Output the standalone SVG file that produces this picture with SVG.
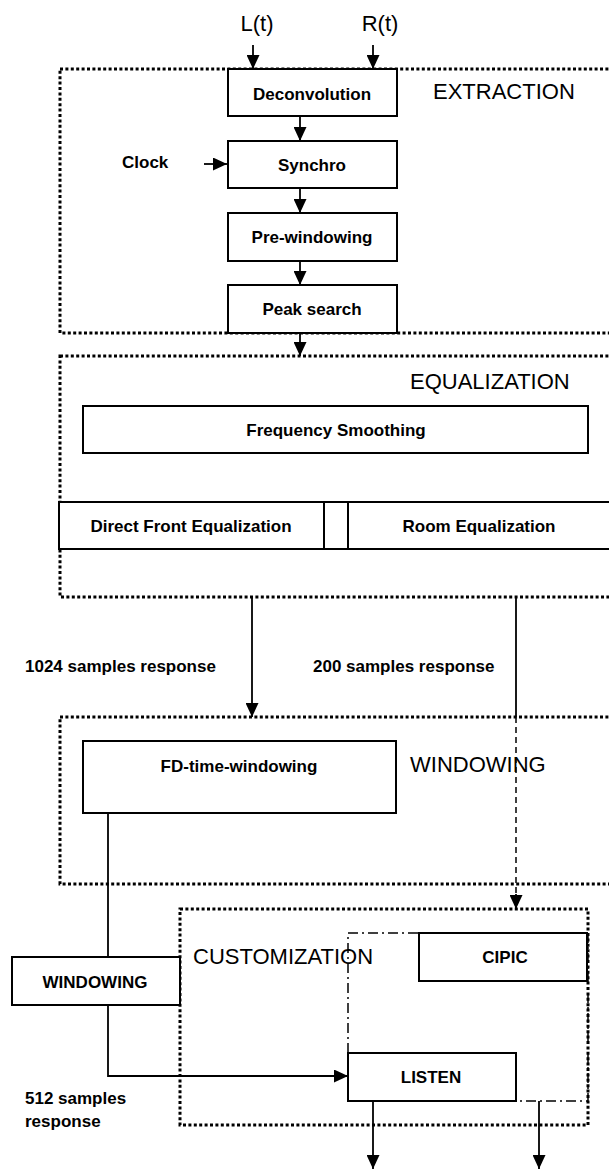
<svg xmlns="http://www.w3.org/2000/svg" width="609" height="1173" viewBox="0 0 609 1173">
<defs>
<marker id="ah" markerUnits="userSpaceOnUse" markerWidth="15" markerHeight="13" refX="14" refY="6.5" orient="auto">
<path d="M0,0 L14,6.5 L0,13 z" fill="#000"/>
</marker>
<style>
.grp{fill:none;stroke:#000;stroke-width:3;stroke-dasharray:3 2.4}
.box{fill:#fff;stroke:#000;stroke-width:2}
.dd{fill:none;stroke:#000;stroke-width:1.5;stroke-dasharray:10 4 2 4}
.ln{fill:none;stroke:#000;stroke-width:1.8}
.arr{fill:none;stroke:#000;stroke-width:1.8;marker-end:url(#ah)}
.dash{fill:none;stroke:#000;stroke-width:1.5;stroke-dasharray:6 4}
.t{font-family:"Liberation Sans",Arial,sans-serif;font-size:17px;font-weight:bold;fill:#000}
.big{font-family:"Liberation Sans",Arial,sans-serif;font-size:22px;fill:#000}
.m{text-anchor:middle}
</style>
</defs>
<rect width="609" height="1173" fill="#fff"/>

<g id="groups">
<rect class="grp" x="60" y="69" width="570" height="264"/>
<rect class="grp" x="60" y="356" width="570" height="241"/>
<rect class="grp" x="60" y="717" width="570" height="167"/>
<rect class="grp" x="180" y="909" width="408" height="216"/>
<path class="dd" d="M348,1053 V933 H588 V1101 H516"/>
</g>

<g id="labels">
<text class="big m" x="257" y="31">L(t)</text>
<text class="big m" x="380" y="31">R(t)</text>
<text class="big" x="433" y="99">EXTRACTION</text>
<text class="big" x="410" y="389">EQUALIZATION</text>
<text class="big" x="410" y="772">WINDOWING</text>
<text class="big" x="193" y="964">CUSTOMIZATION</text>
<text class="t" x="122" y="168">Clock</text>
<text class="t" x="25" y="672">1024 samples response</text>
<text class="t" x="313" y="672">200 samples response</text>
<text class="t" x="25" y="1104">512 samples</text>
<text class="t" x="25" y="1127">response</text>
</g>

<g id="connectors">
<line class="arr" x1="253" y1="45" x2="253" y2="69"/>
<line class="arr" x1="373" y1="45" x2="373" y2="69"/>
<line class="arr" x1="300" y1="116" x2="300" y2="141"/>
<line class="arr" x1="204" y1="164" x2="227" y2="164"/>
<line class="arr" x1="300" y1="188" x2="300" y2="213"/>
<line class="arr" x1="300" y1="261" x2="300" y2="285"/>
<line class="arr" x1="300" y1="333" x2="300" y2="356"/>
<line class="arr" x1="252" y1="597" x2="252" y2="717"/>
<line class="ln" x1="516" y1="597" x2="516" y2="717"/>
<line class="dash" x1="516" y1="717" x2="516" y2="896"/>
<line class="arr" x1="516" y1="894" x2="516" y2="909"/>
<line class="ln" x1="108" y1="813" x2="108" y2="957"/>
<path class="arr" d="M108,1005 V1076 H348"/>
<line class="arr" x1="373" y1="1101" x2="373" y2="1169"/>
<line class="arr" x1="539" y1="1101" x2="539" y2="1169"/>
</g>

<g id="deconvolution">
<rect class="box" x="228" y="69" width="169" height="47"/>
<text class="t m" x="312" y="100">Deconvolution</text>
</g>
<g id="synchro">
<rect class="box" x="228" y="141" width="169" height="47"/>
<text class="t m" x="312" y="171">Synchro</text>
</g>
<g id="prewindowing">
<rect class="box" x="228" y="213" width="169" height="48"/>
<text class="t m" x="312" y="243">Pre-windowing</text>
</g>
<g id="peaksearch">
<rect class="box" x="228" y="285" width="169" height="48"/>
<text class="t m" x="312" y="315">Peak search</text>
</g>
<g id="freqsmoothing">
<rect class="box" x="83" y="406" width="505" height="47"/>
<text class="t m" x="336" y="436">Frequency Smoothing</text>
</g>
<g id="directfront">
<rect class="box" x="59" y="502" width="265" height="47"/>
<text class="t m" x="191" y="532">Direct Front Equalization</text>
</g>
<g id="spacer">
<rect class="box" x="324" y="502" width="24" height="47"/>
</g>
<g id="roomeq">
<rect class="box" x="348" y="502" width="280" height="47"/>
<text class="t m" x="479" y="532">Room Equalization</text>
</g>
<g id="fdtimewindowing">
<rect class="box" x="83" y="741" width="313" height="72"/>
<text class="t m" x="239" y="772">FD-time-windowing</text>
</g>
<g id="windowingbox">
<rect class="box" x="12" y="957" width="168" height="48"/>
<text class="t m" x="95" y="988">WINDOWING</text>
</g>
<g id="cipic">
<rect class="box" x="419" y="933" width="168" height="48"/>
<text class="t m" x="505" y="963">CIPIC</text>
</g>
<g id="listen">
<rect class="box" x="348" y="1053" width="168" height="48"/>
<text class="t m" x="431" y="1083">LISTEN</text>
</g>
</svg>
